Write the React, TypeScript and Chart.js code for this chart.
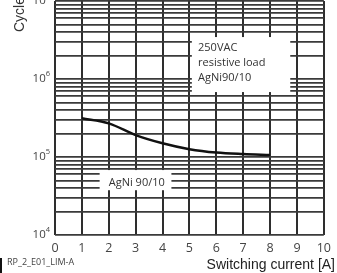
import React, { useEffect, useRef } from "react";
import { Chart, registerables } from "chart.js";

Chart.register(...registerables);

const currents = [1, 2, 3, 4, 5, 6, 7, 8];
const cycles = [313000, 270000, 191000, 150000, 126000, 114000, 109000, 106000];
const xTicks = [0, 1, 2, 3, 4, 5, 6, 7, 8, 9, 10];
const decades = [4, 5, 6, 7];
const minorMultipliers = [1, 2, 3, 4, 5, 6, 7, 8, 9];
const boxText = ["250VAC", "resistive load", "AgNi90/10"];
const curveLabel = "AgNi 90/10";
const xTitle = "Switching current [A]";
const yTitle = "Cycles";
const codeLabel = "RP_2_E01_LIM-A";

const yTickValues: number[] = [];
decades.forEach((d, i) => {
  if (i === decades.length - 1) {
    yTickValues.push(Math.pow(10, d));
  } else {
    minorMultipliers.forEach((m) => yTickValues.push(m * Math.pow(10, d)));
  }
});

const FONT = "'Open Sans', 'Liberation Sans', sans-serif";

const overlay = {
  id: "overlay",
  beforeDatasetsDraw(chart: any) {
    const ctx = chart.ctx;
    const x = chart.scales.x;
    const y = chart.scales.y;
    ctx.save();
    ctx.fillStyle = "#ffffff";
    const bx1 = x.getPixelForValue(5.09);
    const bx2 = x.getPixelForValue(8.75);
    const by1 = y.getPixelForValue(3.45e6);
    const by2 = y.getPixelForValue(6.8e5);
    ctx.fillRect(bx1, by1, bx2 - bx1, by2 - by1);
    const cx1 = x.getPixelForValue(1.66);
    const cx2 = x.getPixelForValue(4.33);
    const cy1 = y.getPixelForValue(6.8e4);
    const cy2 = y.getPixelForValue(3.75e4);
    ctx.fillRect(cx1, cy1, cx2 - cx1, cy2 - cy1);
    ctx.restore();
  },
  afterDraw(chart: any) {
    const ctx = chart.ctx;
    const x = chart.scales.x;
    const y = chart.scales.y;
    ctx.save();
    ctx.fillStyle = "#333";
    ctx.textBaseline = "middle";
    ctx.textAlign = "left";
    ctx.font = `11px ${FONT}`;
    const tx = x.getPixelForValue(5.32);
    const ty0 = y.getPixelForValue(3.45e6);
    boxText.forEach((t, i) => {
      ctx.fillText(t, tx, ty0 + 11 + i * 15);
    });
    ctx.fillText(curveLabel, x.getPixelForValue(2.0), y.getPixelForValue(4.6e4));

    decades.forEach((d) => {
      const py = y.getPixelForValue(Math.pow(10, d));
      ctx.fillStyle = "#444";
      ctx.textAlign = "right";
      const exp = String(d);
      ctx.font = `7.5px ${FONT}`;
      const ew = ctx.measureText(exp).width;
      const right = chart.chartArea.left - 5;
      ctx.fillText(exp, right, py - 5);
      ctx.font = `11.5px ${FONT}`;
      ctx.fillText("10", right - ew, py);
    });

    ctx.fillStyle = "#222";
    ctx.textAlign = "right";
    ctx.font = `14px 'Liberation Sans', Arial, sans-serif`;
    ctx.fillText(xTitle, 335, 265);

    ctx.textAlign = "left";
    ctx.fillStyle = "#444";
    ctx.font = `9px ${FONT}`;
    ctx.fillText(codeLabel, 7, 262);
    ctx.fillStyle = "#111";
    ctx.fillRect(0, 258, 2, 15);

    ctx.save();
    ctx.translate(20, 32);
    ctx.rotate(-Math.PI / 2);
    ctx.fillStyle = "#333";
    ctx.textAlign = "left";
    ctx.font = `14px 'Liberation Sans', Arial, sans-serif`;
    ctx.fillText(yTitle, 0, 0);
    ctx.restore();
    ctx.restore();
  },
};

export default function App() {
  const ref = useRef<HTMLCanvasElement>(null);
  useEffect(() => {
    if (!ref.current) return;
    const chart = new Chart(ref.current, {
      type: "line",
      data: {
        datasets: [
          {
            data: currents.map((c, i) => ({ x: c, y: cycles[i] })),
            borderColor: "#111",
            borderWidth: 2.5,
            pointRadius: 0,
            cubicInterpolationMode: "monotone",
            fill: false,
          },
        ],
      },
      options: {
        animation: false,
        responsive: false,
        devicePixelRatio: 1,
        layout: { padding: { top: 1, right: 11, left: 0, bottom: 0 } },
        plugins: { legend: { display: false }, tooltip: { enabled: false } },
        scales: {
          x: {
            type: "linear",
            min: 0,
            max: 10,
            afterBuildTicks: (s: any) => {
              s.ticks = xTicks.map((v) => ({ value: v }));
            },
            afterFit: (s: any) => {
              s.height = 38;
            },
            grid: { color: "#2e2e2e", lineWidth: 2, drawTicks: false },
            border: { display: false },
            ticks: {
              color: "#444",
              font: { family: FONT, size: 12.5 },
              padding: 6,
              maxRotation: 0,
              autoSkip: false,
            },
          },
          y: {
            type: "logarithmic",
            min: 1e4,
            max: 1e7,
            afterBuildTicks: (s: any) => {
              s.ticks = yTickValues.map((v) => ({ value: v }));
            },
            afterFit: (s: any) => {
              s.width = 55;
            },
            grid: { color: "#3a3a3a", lineWidth: 1.8, drawTicks: false },
            border: { display: false },
            ticks: { display: false },
          },
        },
      },
      plugins: [overlay],
    });
    return () => chart.destroy();
  }, []);
  return (
    <div style={{ position: "fixed", left: 0, top: 0, width: 337, height: 273, background: "#fff" }}>
      <canvas ref={ref} width={337} height={273} style={{ width: 337, height: 273, display: "block" }} />
    </div>
  );
}
